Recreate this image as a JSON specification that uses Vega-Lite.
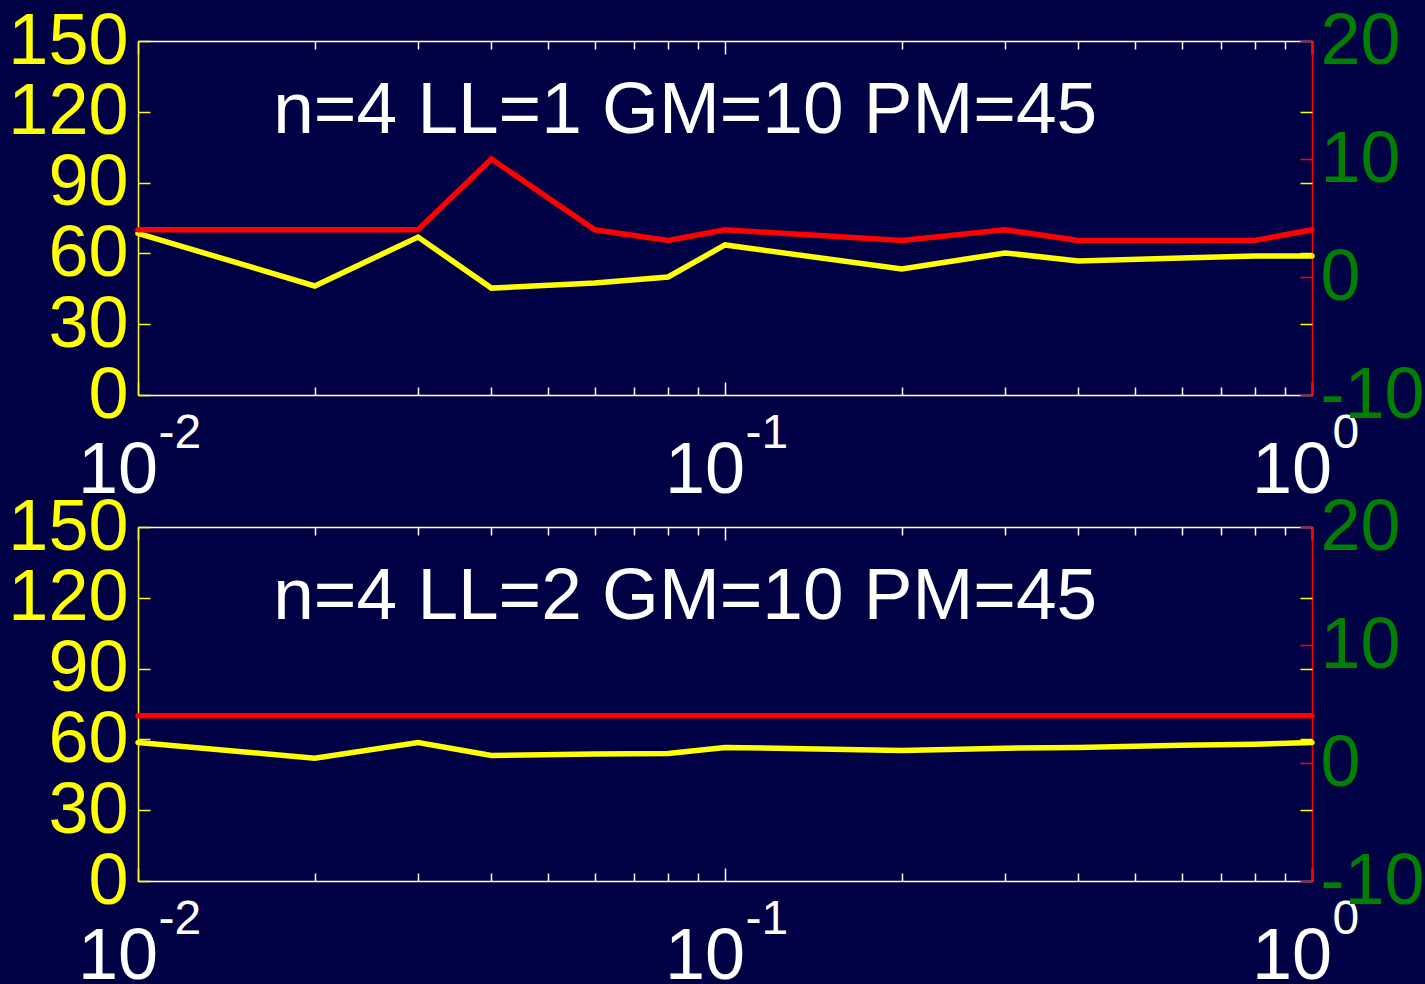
{
  "$schema": "https://vega.github.io/schema/vega-lite/v6.json",
  "background": "#000045",
  "padding": {"left": 7, "top": 5, "right": 0, "bottom": 0},
  "config": {"view": {"stroke": null}, "font": "Liberation Sans", "axis": {"labelFont": "Liberation Sans", "grid": false, "labelFlush": false, "labelOverlap": false, "title": null}},
  "datasets": {
    "top": [
      {"w": 0.01, "pm": 68.5, "gm": 4.0},
      {"w": 0.02, "pm": 46.2, "gm": 4.0},
      {"w": 0.03, "pm": 66.9, "gm": 4.0},
      {"w": 0.04, "pm": 45.3, "gm": 10.0},
      {"w": 0.06, "pm": 47.5, "gm": 4.0},
      {"w": 0.08, "pm": 50.0, "gm": 3.1},
      {"w": 0.1, "pm": 63.6, "gm": 4.0},
      {"w": 0.2, "pm": 53.4, "gm": 3.1},
      {"w": 0.3, "pm": 60.2, "gm": 4.0},
      {"w": 0.4, "pm": 56.8, "gm": 3.1},
      {"w": 0.6, "pm": 58.1, "gm": 3.1},
      {"w": 0.8, "pm": 58.9, "gm": 3.1},
      {"w": 1.0, "pm": 58.9, "gm": 4.0}
    ],
    "bottom": [
      {"w": 0.01, "pm": 58.7, "gm": 4.0},
      {"w": 0.02, "pm": 52.0, "gm": 4.0},
      {"w": 0.03, "pm": 58.7, "gm": 4.0},
      {"w": 0.04, "pm": 53.2, "gm": 4.0},
      {"w": 0.06, "pm": 53.8, "gm": 4.0},
      {"w": 0.08, "pm": 54.0, "gm": 4.0},
      {"w": 0.1, "pm": 56.6, "gm": 4.0},
      {"w": 0.2, "pm": 55.3, "gm": 4.0},
      {"w": 0.3, "pm": 56.3, "gm": 4.0},
      {"w": 0.4, "pm": 56.6, "gm": 4.0},
      {"w": 0.6, "pm": 57.5, "gm": 4.0},
      {"w": 0.8, "pm": 57.9, "gm": 4.0},
      {"w": 1.0, "pm": 58.7, "gm": 4.0}
    ]
  },
  "spacing": 132,
  "bounds": "flush",
  "vconcat": [
    {
      "width": 1174, "height": 354,
      "data": {"name": "top"},
      "layer": [
        {
          "mark": {"type": "line", "color": "#ffff00", "strokeWidth": 5.5, "strokeCap": "round"},
          "encoding": {
            "x": {"field": "w", "type": "quantitative", "scale": {"type": "log", "domain": [0.01, 1], "nice": false},
              "axis": {"orient": "bottom", "values": [0.01,0.02,0.03,0.04,0.05,0.06,0.07,0.08,0.09,0.1,0.2,0.3,0.4,0.5,0.6,0.7,0.8,0.9,1],
                "labelExpr": "(datum.value==0.01||datum.value==0.1||datum.value==1)?'10':''",
                "labelAlign": "right", "labelOffset": 19.5, "labelBaseline": "top", "labelFontSize": 72, "labelColor": "#ffffff", "labelPadding": 53,
                "tickSize": {"condition": {"test": "datum.value==0.01||datum.value==0.1||datum.value==1", "value": -13}, "value": -8},
                "tickColor": "#ffffff", "tickWidth": 1.5, "domainColor": "#ffffff", "domainWidth": 1.5}},
            "y": {"field": "pm", "type": "quantitative", "scale": {"domain": [0, 150], "nice": false},
              "axis": {"orient": "left", "values": [0,30,60,90,120,150], "labelColor": "#ffff00", "labelFontSize": 72, "labelBaseline": "middle", "tickSize": -12, "labelPadding": 22, "tickColor": "#ffff00", "tickWidth": 1.5, "domainColor": "#ffff00", "domainWidth": 1.5}}
          }
        },
        {
          "mark": {"type": "line", "color": "#ff0000", "strokeWidth": 5.5, "strokeCap": "round"},
          "encoding": {
            "x": {"field": "w", "type": "quantitative", "scale": {"type": "log", "domain": [0.01, 1], "nice": false}, "axis": null},
            "y": {"field": "gm", "type": "quantitative", "scale": {"domain": [-10, 20], "nice": false},
              "axis": {"orient": "right", "values": [-10,0,10,20], "labelExpr": "'' + datum.value", "labelColor": "#008000", "labelFontSize": 72, "labelBaseline": "middle", "tickSize": -12, "labelPadding": 20, "tickColor": "#ff0000", "tickWidth": 1.5, "domainColor": "#ff0000", "domainWidth": 1.5}}
          }
        },
        {
          "mark": {"type": "line", "opacity": 0},
          "encoding": {
            "x": {"field": "w", "type": "quantitative", "scale": {"type": "log", "domain": [0.01, 1], "nice": false},
              "axis": {"orient": "top", "values": [0.01,0.02,0.03,0.04,0.05,0.06,0.07,0.08,0.09,0.1,0.2,0.3,0.4,0.5,0.6,0.7,0.8,0.9,1], "labels": false,
                "tickSize": {"condition": {"test": "datum.value==0.01||datum.value==0.1||datum.value==1", "value": -13}, "value": -8},
                "tickColor": "#ffffff", "tickWidth": 1.5, "domainColor": "#ffffff", "domainWidth": 1.5}},
            "y": {"field": "pm", "type": "quantitative", "scale": {"domain": [0, 150], "nice": false},
              "axis": {"orient": "right", "values": [30,60,90,120], "labels": false, "tickSize": -12, "tickColor": "#ffff00", "tickWidth": 1.5, "domain": false}}
          }
        },
        {
          "mark": {"type": "line", "opacity": 0},
          "encoding": {
            "x": {"field": "w", "type": "quantitative", "scale": {"type": "log", "domain": [0.01, 1], "nice": false},
              "axis": {"orient": "bottom", "values": [0.01, 0.1, 1], "ticks": false, "domain": false,
                "labelExpr": "datum.value==0.01?'-2':(datum.value==0.1?'-1':'0')",
                "labelAlign": "left", "labelOffset": 20, "labelBaseline": "top", "labelFontSize": 48, "labelColor": "#ffffff", "labelPadding": 14}},
            "y": {"field": "pm", "type": "quantitative", "scale": {"domain": [0, 150], "nice": false}, "axis": null}
          }
        },
        {
          "data": {"values": [{"label": "n=4 LL=1 GM=10 PM=45"}]},
          "mark": {"type": "text", "fontSize": 73, "color": "#ffffff", "align": "left", "baseline": "alphabetic", "font": "Liberation Sans"},
          "encoding": {
            "x": {"datum": 0.017, "type": "quantitative", "scale": {"type": "log", "domain": [0.01, 1], "nice": false}, "axis": null},
            "y": {"datum": 111, "type": "quantitative", "scale": {"domain": [0, 150], "nice": false}, "axis": null},
            "text": {"field": "label"}
          }
        }
      ],
      "resolve": {"scale": {"x": "independent", "y": "independent"}, "axis": {"x": "independent", "y": "independent"}}
    },
    {
      "width": 1174, "height": 354,
      "data": {"name": "bottom"},
      "layer": [
        {
          "mark": {"type": "line", "color": "#ffff00", "strokeWidth": 5.5, "strokeCap": "round"},
          "encoding": {
            "x": {"field": "w", "type": "quantitative", "scale": {"type": "log", "domain": [0.01, 1], "nice": false},
              "axis": {"orient": "bottom", "values": [0.01,0.02,0.03,0.04,0.05,0.06,0.07,0.08,0.09,0.1,0.2,0.3,0.4,0.5,0.6,0.7,0.8,0.9,1],
                "labelExpr": "(datum.value==0.01||datum.value==0.1||datum.value==1)?'10':''",
                "labelAlign": "right", "labelOffset": 19.5, "labelBaseline": "top", "labelFontSize": 72, "labelColor": "#ffffff", "labelPadding": 53,
                "tickSize": {"condition": {"test": "datum.value==0.01||datum.value==0.1||datum.value==1", "value": -13}, "value": -8},
                "tickColor": "#ffffff", "tickWidth": 1.5, "domainColor": "#ffffff", "domainWidth": 1.5}},
            "y": {"field": "pm", "type": "quantitative", "scale": {"domain": [0, 150], "nice": false},
              "axis": {"orient": "left", "values": [0,30,60,90,120,150], "labelColor": "#ffff00", "labelFontSize": 72, "labelBaseline": "middle", "tickSize": -12, "labelPadding": 22, "tickColor": "#ffff00", "tickWidth": 1.5, "domainColor": "#ffff00", "domainWidth": 1.5}}
          }
        },
        {
          "mark": {"type": "line", "color": "#ff0000", "strokeWidth": 5.5, "strokeCap": "round"},
          "encoding": {
            "x": {"field": "w", "type": "quantitative", "scale": {"type": "log", "domain": [0.01, 1], "nice": false}, "axis": null},
            "y": {"field": "gm", "type": "quantitative", "scale": {"domain": [-10, 20], "nice": false},
              "axis": {"orient": "right", "values": [-10,0,10,20], "labelExpr": "'' + datum.value", "labelColor": "#008000", "labelFontSize": 72, "labelBaseline": "middle", "tickSize": -12, "labelPadding": 20, "tickColor": "#ff0000", "tickWidth": 1.5, "domainColor": "#ff0000", "domainWidth": 1.5}}
          }
        },
        {
          "mark": {"type": "line", "opacity": 0},
          "encoding": {
            "x": {"field": "w", "type": "quantitative", "scale": {"type": "log", "domain": [0.01, 1], "nice": false},
              "axis": {"orient": "top", "values": [0.01,0.02,0.03,0.04,0.05,0.06,0.07,0.08,0.09,0.1,0.2,0.3,0.4,0.5,0.6,0.7,0.8,0.9,1], "labels": false,
                "tickSize": {"condition": {"test": "datum.value==0.01||datum.value==0.1||datum.value==1", "value": -13}, "value": -8},
                "tickColor": "#ffffff", "tickWidth": 1.5, "domainColor": "#ffffff", "domainWidth": 1.5}},
            "y": {"field": "pm", "type": "quantitative", "scale": {"domain": [0, 150], "nice": false},
              "axis": {"orient": "right", "values": [30,60,90,120], "labels": false, "tickSize": -12, "tickColor": "#ffff00", "tickWidth": 1.5, "domain": false}}
          }
        },
        {
          "mark": {"type": "line", "opacity": 0},
          "encoding": {
            "x": {"field": "w", "type": "quantitative", "scale": {"type": "log", "domain": [0.01, 1], "nice": false},
              "axis": {"orient": "bottom", "values": [0.01, 0.1, 1], "ticks": false, "domain": false,
                "labelExpr": "datum.value==0.01?'-2':(datum.value==0.1?'-1':'0')",
                "labelAlign": "left", "labelOffset": 20, "labelBaseline": "top", "labelFontSize": 48, "labelColor": "#ffffff", "labelPadding": 14}},
            "y": {"field": "pm", "type": "quantitative", "scale": {"domain": [0, 150], "nice": false}, "axis": null}
          }
        },
        {
          "data": {"values": [{"label": "n=4 LL=2 GM=10 PM=45"}]},
          "mark": {"type": "text", "fontSize": 73, "color": "#ffffff", "align": "left", "baseline": "alphabetic", "font": "Liberation Sans"},
          "encoding": {
            "x": {"datum": 0.017, "type": "quantitative", "scale": {"type": "log", "domain": [0.01, 1], "nice": false}, "axis": null},
            "y": {"datum": 111, "type": "quantitative", "scale": {"domain": [0, 150], "nice": false}, "axis": null},
            "text": {"field": "label"}
          }
        }
      ],
      "resolve": {"scale": {"x": "independent", "y": "independent"}, "axis": {"x": "independent", "y": "independent"}}
    }
  ]
}
